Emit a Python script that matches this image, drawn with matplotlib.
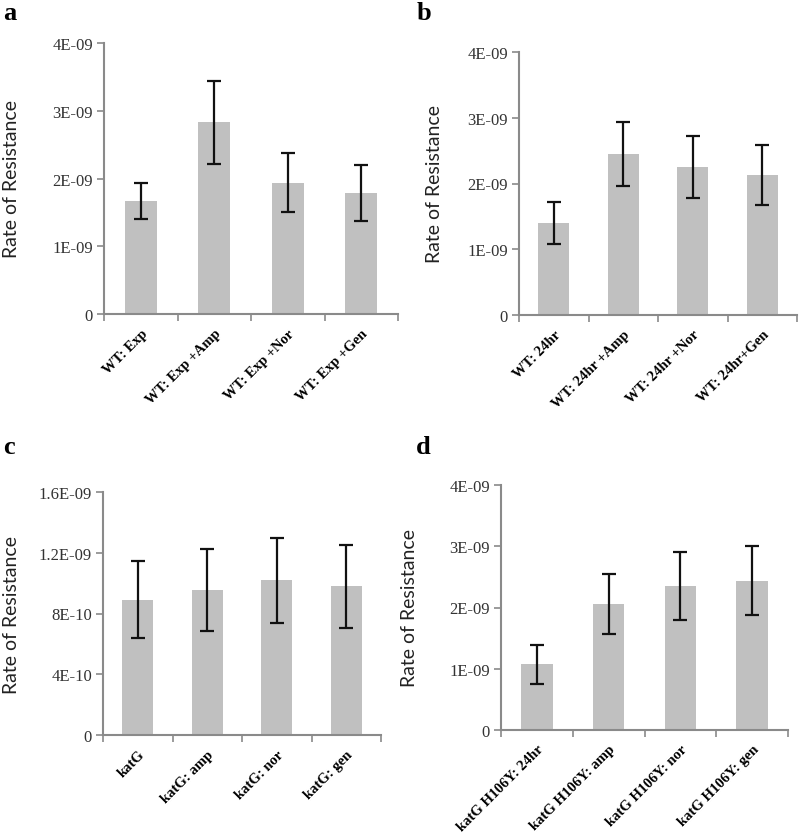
import matplotlib
matplotlib.use("Agg")
import matplotlib.pyplot as plt
from matplotlib.transforms import blended_transform_factory

# panel data
cats_a = ["WT: Exp", "WT: Exp +Amp", "WT: Exp +Nor", "WT: Exp +Gen"]
vals_a = [1.67e-9, 2.83e-9, 1.94e-9, 1.79e-9]
errs_a = [0.27e-9, 0.61e-9, 0.43e-9, 0.41e-9]

cats_b = ["WT: 24hr", "WT: 24hr +Amp", "WT: 24hr +Nor", "WT: 24hr+Gen"]
vals_b = [1.40e-9, 2.45e-9, 2.25e-9, 2.13e-9]
errs_b = [0.32e-9, 0.49e-9, 0.47e-9, 0.46e-9]

cats_c = ["katG", "katG: amp", "katG: nor", "katG: gen"]
vals_c = [0.89e-9, 0.955e-9, 1.02e-9, 0.978e-9]
errs_c = [0.254e-9, 0.27e-9, 0.28e-9, 0.272e-9]

cats_d = ["katG H106Y: 24hr", "katG H106Y: amp", "katG H106Y: nor", "katG H106Y: gen"]
vals_d = [1.07e-9, 2.05e-9, 2.35e-9, 2.44e-9]
errs_d = [0.32e-9, 0.49e-9, 0.55e-9, 0.56e-9]

yt_wt = [0, 1e-9, 2e-9, 3e-9, 4e-9]
ytl_wt = ["0", "1E-09", "2E-09", "3E-09", "4E-09"]
yt_c = [0, 4e-10, 8e-10, 1.2e-9, 1.6e-9]
ytl_c = ["0", "4E-10", "8E-10", "1.2E-09", "1.6E-09"]

W, H = 800, 837
fig = plt.figure(figsize=(8, 8.37), dpi=100)

serif = ["Liberation Serif", "DejaVu Serif"]
sans = ["Lato", "DejaVu Sans"]
spine_col = "#8a8a8a"


def px_axes(l, r, t, b):
    return [l / W, 1 - b / H, (r - l) / W, (b - t) / H]


panels = [
    ("a", px_axes(104, 398, 44, 315), cats_a, vals_a, errs_a, yt_wt, ytl_wt, 20, (3, 14)),
    ("b", px_axes(519, 797, 53, 316), cats_b, vals_b, errs_b, yt_wt, ytl_wt, 443, (417, 14)),
    ("c", px_axes(103, 381, 493, 736), cats_c, vals_c, errs_c, yt_c, ytl_c, 20, (3, 448)),
    ("d", px_axes(501, 788, 486, 731), cats_d, vals_d, errs_d, yt_wt, ytl_wt, 418, (416, 448)),
]

for letter, rect, cats, vals, errs, yt, ytl, ylab_x, (lx, ly) in panels:
    ax = fig.add_axes(rect)
    x = range(len(cats))
    ax.bar(x, vals, width=0.44, color="#c0c0c0", zorder=2)
    ax.errorbar(x, vals, yerr=errs, fmt="none", ecolor="#111111",
                elinewidth=1.6, capsize=5, capthick=1.6, zorder=3)
    ax.set_xlim(-0.5, len(cats) - 0.5)
    ax.set_ylim(yt[0], yt[-1])
    ax.set_yticks(yt)
    ax.set_yticklabels(ytl, family=serif, fontsize=12, color="#333333")
    ax.set_xticks(list(x))
    ax.set_xticklabels(cats, rotation=45, ha="right", rotation_mode="anchor",
                       family=serif, fontweight="bold", fontsize=10.5)
    ax.set_xticks([i - 0.5 for i in range(len(cats) + 1)], minor=True)
    ax.tick_params(axis="x", which="major", length=0, pad=9)
    ax.tick_params(axis="x", which="minor", length=5, color=spine_col, width=1.2)
    ax.tick_params(axis="y", length=5, color=spine_col, width=1.2, pad=3)
    for s in ["top", "right"]:
        ax.spines[s].set_visible(False)
    for s in ["left", "bottom"]:
        ax.spines[s].set_color(spine_col)
        ax.spines[s].set_linewidth(1.5)
    ax.set_ylabel("Rate of Resistance", family=sans, fontsize=14, color="#222222")
    ax.yaxis.set_label_coords(ylab_x / W, 0.5,
                              transform=blended_transform_factory(fig.transFigure, ax.transAxes))
    fig.text(lx / W, 1 - ly / H, letter, family=serif, fontweight="bold",
             fontsize=19, ha="left", va="center")

fig.savefig("out.png", dpi=100)
